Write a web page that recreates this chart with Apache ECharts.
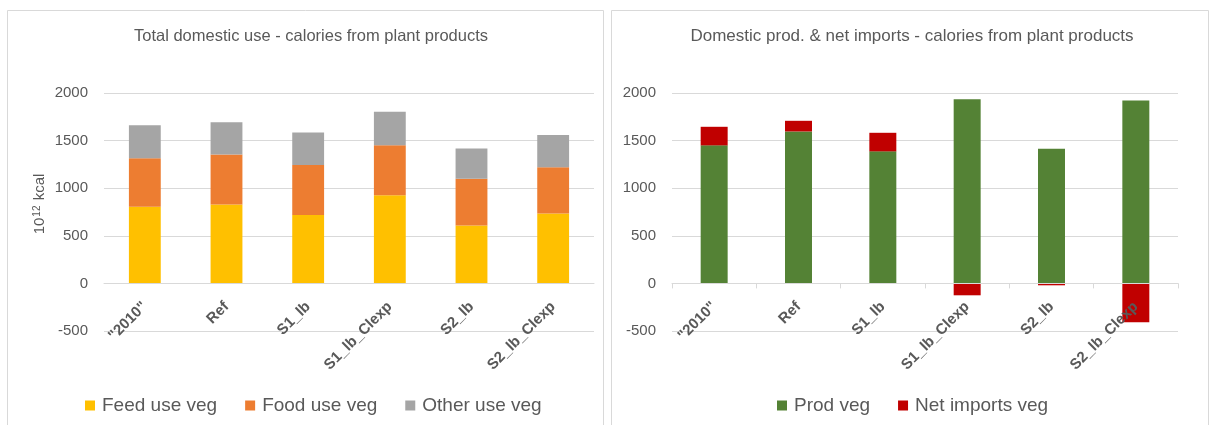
<!DOCTYPE html>
<html>
<head>
<meta charset="utf-8">
<script src="https://cdn.jsdelivr.net/npm/echarts@6/dist/echarts.min.js"></script>
<style>
  html, body { margin: 0; padding: 0; background: #fff; }
  #main { width: 1210px; height: 425px; }
</style>
</head>
<body>
<div id="main"></div>
<script>
// 数据
var categories = ['"2010"', 'Ref', 'S1_lb', 'S1_lb_Clexp', 'S2_lb', 'S2_lb_Clexp'];
var feedUse = [806, 828, 719, 926, 609, 733];
var foodUse = [508, 525, 524, 525, 490, 486];
var otherUse = [346, 341, 343, 352, 317, 341];
var prodVeg = [1450, 1596, 1387, 1935, 1415, 1921];
var netImports = [195, 112, 195, -125, -20, -409];
var yTicks = { min: -500, max: 2000, step: 500 };

var labelColor = '#595959';
var gridColor = '#d9d9d9';
var font = 'Liberation Sans';
var gridHeight = 238;
// x轴放在0的位置（从底部往上移）
var zeroOffset = -gridHeight * (0 - yTicks.min) / (yTicks.max - yTicks.min);

function xAxisFor(gridIndex, ticks) {
  return {
    type: 'category',
    gridIndex: gridIndex,
    data: categories,
    offset: zeroOffset,
    z: 5, // 文字盖在柱子上面
    axisLine: { onZero: false, lineStyle: { color: gridColor, width: 1 } },
    axisTick: { show: ticks, length: 5, lineStyle: { color: gridColor } },
    axisLabel: {
      rotate: 45,
      margin: 21,
      interval: 0,
      color: labelColor,
      fontWeight: 'bold',
      fontSize: 15,
      fontFamily: font
    }
  };
}

function yAxisFor(gridIndex) {
  return {
    type: 'value',
    gridIndex: gridIndex,
    min: yTicks.min,
    max: yTicks.max,
    interval: yTicks.step,
    axisLine: { show: false },
    axisTick: { show: false },
    axisLabel: {
      color: labelColor, fontSize: 15, fontFamily: font, margin: 16,
      formatter: function (v) { return String(v); }
    },
    splitLine: { lineStyle: { color: gridColor, width: 1 } }
  };
}

var myChart = echarts.init(document.getElementById('main'), null, { renderer: 'canvas' });

var legendText = { fontSize: 19, color: labelColor, fontFamily: font, padding: [0, 0, 0, 2] };

var option = {
  animation: false,
  backgroundColor: '#fff',
  textStyle: { fontFamily: font },
  title: [
    {
      text: 'Total domestic use - calories from plant products',
      left: 306, top: 23, textAlign: 'center',
      textStyle: { fontSize: 16.5, fontWeight: 'normal', color: labelColor, fontFamily: font }
    },
    {
      text: 'Domestic prod. & net imports - calories from plant products',
      left: 907, top: 23, textAlign: 'center',
      textStyle: { fontSize: 17, fontWeight: 'normal', color: labelColor, fontFamily: font }
    }
  ],
  legend: [
    {
      left: 80, top: 391,
      data: ['Feed use veg', 'Food use veg', 'Other use veg'],
      icon: 'rect', itemWidth: 10, itemHeight: 10, itemGap: 28,
      textStyle: legendText
    },
    {
      left: 772, top: 391,
      data: ['Prod veg', 'Net imports veg'],
      icon: 'rect', itemWidth: 10, itemHeight: 10, itemGap: 28,
      textStyle: legendText
    }
  ],
  grid: [
    { left: 104, top: 93, width: 490, height: gridHeight },
    { left: 672, top: 93, width: 506, height: gridHeight }
  ],
  xAxis: [xAxisFor(0, false), xAxisFor(1, true)],
  yAxis: [yAxisFor(0), yAxisFor(1)],
  graphic: [
    { type: 'rect', shape: { x: 7.5, y: 10.5, width: 596, height: 430 },
      style: { fill: 'none', stroke: gridColor, lineWidth: 1 }, silent: true, z: -10 },
    { type: 'rect', shape: { x: 611.5, y: 10.5, width: 597, height: 430 },
      style: { fill: 'none', stroke: gridColor, lineWidth: 1 }, silent: true, z: -10 },
    {
      type: 'text', x: 40, y: 204, rotation: Math.PI / 2,
      style: {
        text: '{a|10}{b|12}{a| kcal}',
        align: 'center', verticalAlign: 'middle',
        rich: {
          a: { fontSize: 15, fill: labelColor, fontFamily: font },
          b: { fontSize: 10, fill: labelColor, fontFamily: font, verticalAlign: 'top', padding: [0, 1, 6, 1] }
        }
      }
    }
  ],
  series: [
    { name: 'Feed use veg', type: 'bar', stack: 'use', xAxisIndex: 0, yAxisIndex: 0,
      barWidth: '39%', itemStyle: { color: '#FFC000' }, data: feedUse },
    { name: 'Food use veg', type: 'bar', stack: 'use', xAxisIndex: 0, yAxisIndex: 0,
      itemStyle: { color: '#ED7D31' }, data: foodUse },
    { name: 'Other use veg', type: 'bar', stack: 'use', xAxisIndex: 0, yAxisIndex: 0,
      itemStyle: { color: '#A5A5A5' }, data: otherUse },
    { name: 'Prod veg', type: 'bar', stack: 'supply', xAxisIndex: 1, yAxisIndex: 1,
      barWidth: '32%', itemStyle: { color: '#548235' }, data: prodVeg },
    { name: 'Net imports veg', type: 'bar', stack: 'supply', xAxisIndex: 1, yAxisIndex: 1,
      itemStyle: { color: '#C00000' }, data: netImports }
  ]
};

myChart.setOption(option);
</script>
</body>
</html>
